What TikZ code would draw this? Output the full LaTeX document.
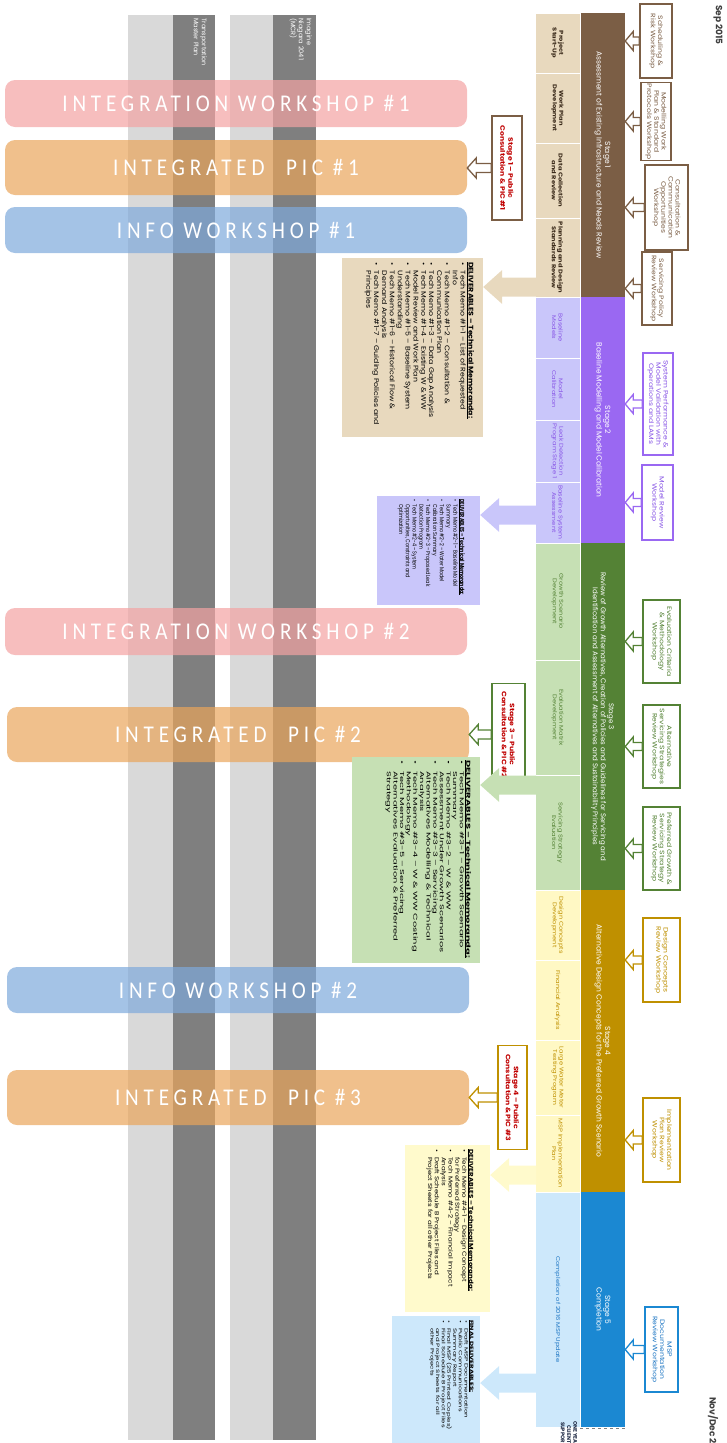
\documentclass[tikz,border=0pt]{standalone}
\usepackage{fontspec}
\usepackage{graphicx}
\setmainfont{Poppins}
\newfontfamily\barfamily{Carlito}[LetterSpace=20, FakeStretch=0.88]
\newfontfamily\rfam{Poppins}[FakeStretch=1.2]
\usetikzlibrary{calc}
\definecolor{sbrown}{HTML}{7B5E45}
\definecolor{stan}{HTML}{E8D9BE}
\definecolor{spurple}{HTML}{9A68F2}
\definecolor{spurpletext}{HTML}{8856E6}
\definecolor{slav}{HTML}{C9C6FA}
\definecolor{sgreen}{HTML}{548235}
\definecolor{slgreen}{HTML}{C6E0B4}
\definecolor{sgold}{HTML}{BF9000}
\definecolor{syellow}{HTML}{FFF8C4}
\definecolor{sdyellow}{HTML}{FFFACC}
\definecolor{sblue}{HTML}{1B88D2}
\definecolor{sbluetext}{HTML}{1F77C4}
\definecolor{slblue}{HTML}{CDE8FB}
\definecolor{dkred}{HTML}{C00000}
\definecolor{lgray}{HTML}{D9D9D9}
\definecolor{dgray}{HTML}{7F7F7F}
\definecolor{barpink}{HTML}{F3A3A3}
\definecolor{barorange}{HTML}{E9A55B}
\definecolor{barblue}{HTML}{7EA9DB}
\definecolor{darktext}{HTML}{404040}
\definecolor{subdark}{HTML}{3A2A1A}
\definecolor{navytext}{HTML}{1F2A44}
\newcommand\bitem[1]{\makebox[8pt][l]{\textbullet}#1}
\newcommand\citem[1]{\hspace*{8pt}#1}
\newcommand\delhead[1]{\textbf{\underline{#1}}}
% #1 box length, #2 box thickness, #3 pad right, #4 pad top, #5 L, #6 H, #7 lines
\newcommand\delcontent[7]{\begin{minipage}[c][#2][t]{#1}\vspace*{#3}\noindent\hspace*{#4}\resizebox*{#5}{#6}{\fontsize{7}{8.2}\selectfont\begin{tabular}{@{}l@{}}#7\end{tabular}}\end{minipage}}
\newcommand\blockarrow[6]{\path[#1] let \p1=(#2), \p2=(#3) in (\x1,\y2+#4) -- (\x2+#6,\y2+#4) -- (\x2+#6,\y2+#5) -- (\x2,\y2) -- (\x2+#6,\y2-#5) -- (\x2+#6,\y2-#4) -- (\x1,\y2-#4) -- cycle;}
\begin{document}
\begin{tikzpicture}[x=1pt,y=-1pt,
  rot/.style={rotate=-90},
  stagebar/.style={rot, minimum height=45pt, inner sep=1pt, align=center, text=white, font=\fontsize{7.5}{8.5}\selectfont},
  subseg/.style={rot, minimum height=45pt, inner sep=1pt, align=center, draw=white, line width=0.8pt, font=\rfam\fontsize{5.6}{6.6}\selectfont},
  subsegb/.style={subseg, text=subdark, font=\rfam\bfseries\fontsize{5.6}{6.6}\selectfont},
  wbox/.style={rot, draw, fill=white, line width=1.6pt, align=center, inner sep=1pt, font=\rfam\fontsize{6.4}{7.2}\selectfont},
  pbox/.style={wbox, text=dkred, font=\rfam\bfseries\fontsize{6.4}{8}\selectfont},
  hbar/.style={rounded corners=10pt, minimum width=462pt, text=white, fill opacity=0.7, text opacity=1, inner sep=0pt, font=\barfamily\fontsize{24}{26}\selectfont},
  delbox/.style={rot, inner sep=0pt},
  barlabel/.style={rot, anchor=north west, text=white, align=left, inner sep=0pt, font=\fontsize{6.5}{8}\selectfont},
  harrow/.style={fill=white, line width=1.3pt},
]
\useasboundingbox (0,0) rectangle (727,1443);
\clip (0,0) rectangle (727,1443);
% vertical gray bands
\fill[lgray] (128,15) rectangle (173,1440);
\fill[dgray] (173,15) rectangle (215,1440);
\fill[lgray] (230,15) rectangle (273,1440);
\fill[dgray] (273,15) rectangle (316,1440);
\node[barlabel] (tmp) at (207,18) {Transportation\\Master Plan};
\node[barlabel] (mcr) at (312,18) {Imagine\\Niagara 2041\\(MCR)};
% horizontal bars
\node[hbar, fill=barpink, minimum height=47pt] (iw1) at (236,103.5) {INTEGRATION WORKSHOP \#1};
\node[hbar, fill=barorange, minimum height=55pt] (pic1) at (236,167.5) {INTEGRATED\hspace{12pt} PIC \#1};
\node[hbar, fill=barblue, minimum height=46pt] (info1) at (236,230) {INFO WORKSHOP \#1};
\node[hbar, fill=barpink, minimum height=47pt] (iw2) at (236,631.5) {INTEGRATION WORKSHOP \#2};
\node[hbar, fill=barorange, minimum height=55pt] (pic2) at (238,734.5) {INTEGRATED\hspace{12pt} PIC \#2};
\node[hbar, fill=barblue, minimum height=46pt] (info2) at (238,990) {INFO WORKSHOP \#2};
\node[hbar, fill=barorange, minimum height=55pt] (pic3) at (238,1097.5) {INTEGRATED\hspace{12pt} PIC \#3};
% stage bars
\node[stagebar, fill=sbrown, minimum width=284pt] (s1) at (602.5,155) {Stage 1\\Assessment of Existing Infrastructure and Needs Review};
\node[stagebar, fill=spurple, minimum width=246pt] (s2) at (602.5,420) {Stage 2\\Baseline Modelling and Model Calibration};
\node[stagebar, fill=sgreen, minimum width=347pt, font=\fontsize{7}{8}\selectfont] (s3) at (602.5,716.5) {Stage 3\\Review of Growth Alternatives, Creation of Policies and Guidelines for Servicing and\\Identification and Assessment of Alternatives and Sustainability Principles};
\node[stagebar, fill=sgold, minimum width=302pt] (s4) at (602.5,1041) {Stage 4\\Alternative Design Concepts for the Preferred Growth Scenario};
\node[stagebar, fill=sblue, minimum width=235pt] (s5) at (602.5,1309.5) {Stage 5\\Completion};
\draw[gray, dashed, line width=0.6pt] (580,1428) -- (627,1428);
% sub rows
\node[subsegb, fill=stan, minimum width=60pt] (s1a) at (557.5,43) {Project\\Start-Up};
\node[subsegb, fill=stan, minimum width=70pt] (s1b) at (557.5,108) {Work Plan\\Development};
\node[subsegb, fill=stan, minimum width=75pt] (s1c) at (557.5,180.5) {Data Collection\\and Review};
\node[subsegb, fill=stan, minimum width=79pt] (s1d) at (557.5,257.5) {Planning and Design\\Standards Review};
\node[subseg, fill=slav, text=spurpletext, minimum width=61pt] (s2a) at (557.5,327.5) {Baseline\\Models};
\node[subseg, fill=slav, text=spurpletext, minimum width=62pt] (s2b) at (557.5,389) {Model\\Calibration};
\node[subseg, fill=slav, text=spurpletext, minimum width=62pt] (s2c) at (557.5,451) {Leak Detection\\Program Stage 1};
\node[subseg, fill=slav, text=spurpletext, minimum width=61pt] (s2d) at (557.5,512.5) {Baseline System\\Assessment};
\node[subseg, fill=slgreen, text=sgreen, minimum width=117pt] (s3a) at (557.5,601.5) {Growth Scenario\\Development};
\node[subseg, fill=slgreen, text=sgreen, minimum width=115pt] (s3b) at (557.5,717.5) {Evaluation Matrix\\Development};
\node[subseg, fill=slgreen, text=sgreen, minimum width=115pt] (s3c) at (557.5,832.5) {Servicing Strategy\\Evaluation};
\node[subseg, fill=syellow, text=sgold, minimum width=70pt] (s4a) at (557.5,925) {Design Concepts\\Development};
\node[subseg, fill=syellow, text=sgold, minimum width=80pt] (s4b) at (557.5,1000) {Financial Analysis};
\node[subseg, fill=syellow, text=sgold, minimum width=75pt] (s4c) at (557.5,1077.5) {Large Water Meter\\Testing Program};
\node[subseg, fill=syellow, text=sgold, minimum width=77pt] (s4d) at (557.5,1153.5) {MSP Implementation\\Plan};
\node[subseg, fill=slblue, text=sbluetext, minimum width=235pt] (s5a) at (557.5,1309.5) {Completion of 2016 MSP Update};
% workshop boxes
\node[wbox, draw=sbrown, text=sbrown, minimum width=74pt, minimum height=32pt] (w1) at (656,41) {Scheduling \&\\Risk Workshop};
\node[wbox, draw=sbrown, text=sbrown, minimum width=77pt, minimum height=30pt] (w2) at (656,121.5) {Modelling Work\\Plan \& Standard\\Protocols Workshop};
\node[wbox, draw=sbrown, text=sbrown, minimum width=85pt, minimum height=43pt] (w3) at (666.5,207.5) {Consultation \&\\Communication\\Opportunities\\Workshop};
\node[wbox, draw=sbrown, text=sbrown, minimum width=73pt, minimum height=30pt] (w4) at (657,288.5) {Servicing Policy\\Review Workshop};
\node[wbox, draw=spurple, text=spurpletext, minimum width=102pt, minimum height=30pt] (w5) at (658,404) {System Performance \&\\Model Validation with\\Operations and LAMs};
\node[wbox, draw=spurple, text=spurpletext, minimum width=75pt, minimum height=31pt] (w6) at (657.5,502.5) {Model Review\\Workshop};
\node[wbox, draw=sgreen, text=sgreen, minimum width=83pt, minimum height=37pt] (w7) at (661.5,641.5) {Evaluation Criteria\\\& Methodology\\Workshop};
\node[wbox, draw=sgreen, text=sgreen, minimum width=83pt, minimum height=37pt] (w8) at (661.5,746.5) {Alternative\\Servicing Strategies\\Review Workshop};
\node[wbox, draw=sgreen, text=sgreen, minimum width=83pt, minimum height=37pt] (w9) at (661.5,848.5) {Preferred Growth \&\\Servicing Strategy\\Review Workshop};
\node[wbox, draw=sgold, text=sgold, minimum width=84pt, minimum height=37pt] (w10) at (661.5,960) {Design Concepts\\Review Workshop};
\node[wbox, draw=sgold, text=sgold, minimum width=84pt, minimum height=37pt] (w11) at (661.5,1140) {Implementation\\Plan Review\\Workshop};
\node[wbox, draw=sblue, text=sbluetext, minimum width=85pt, minimum height=33pt] (w12) at (661.5,1349.5) {MSP\\Documentation\\Review Workshop};
\blockarrow{harrow, draw=sbrown}{w1.south}{w1.south -| s1.north}{4pt}{9.5pt}{8pt}
\blockarrow{harrow, draw=sbrown}{w2.south}{w2.south -| s1.north}{4pt}{9.5pt}{8pt}
\blockarrow{harrow, draw=sbrown}{w3.south}{w3.south -| s1.north}{4pt}{9.5pt}{8pt}
\blockarrow{harrow, draw=sbrown}{w4.south}{w4.south -| s1.north}{4pt}{9.5pt}{8pt}
\blockarrow{harrow, draw=spurple}{w5.south}{w5.south -| s2.north}{4pt}{9.5pt}{8pt}
\blockarrow{harrow, draw=spurple}{w6.south}{w6.south -| s2.north}{4pt}{9.5pt}{8pt}
\blockarrow{harrow, draw=sgreen}{w7.south}{w7.south -| s3.north}{4pt}{9.5pt}{8pt}
\blockarrow{harrow, draw=sgreen}{w8.south}{w8.south -| s3.north}{4pt}{9.5pt}{8pt}
\blockarrow{harrow, draw=sgreen}{w9.south}{w9.south -| s3.north}{4pt}{9.5pt}{8pt}
\blockarrow{harrow, draw=sgold}{w10.south}{w10.south -| s4.north}{4pt}{9.5pt}{8pt}
\blockarrow{harrow, draw=sgold}{w11.south}{w11.south -| s4.north}{4pt}{9.5pt}{8pt}
\blockarrow{harrow, draw=sblue}{w12.south}{w12.south -| s5.north}{4pt}{9.5pt}{8pt}
% public consultation boxes
\node[pbox, draw=sbrown, minimum width=104pt, minimum height=30pt] (p1) at (507,168) {Stage 1 – Public\\Consultation \& PIC \#1};
\node[pbox, draw=sgreen, minimum width=102pt, minimum height=33pt] (p2) at (508.5,734.5) {Stage 3 – Public\\Consultation \& PIC \#2};
\node[pbox, draw=sgold, minimum width=104pt, minimum height=29pt] (p3) at (512.5,1097.5) {Stage 4 – Public\\Consultation \& PIC \#3};
\blockarrow{harrow, draw=sbrown}{p1.south}{p1.south -| pic1.east}{4.5pt}{10pt}{9pt}
\blockarrow{harrow, draw=sgreen}{p2.south}{p2.south -| pic2.east}{4.5pt}{10pt}{9pt}
\blockarrow{harrow, draw=sgold}{p3.south}{p3.south -| pic3.east}{4.5pt}{10pt}{9pt}
% deliverables
\node[delbox, fill=stan] (d1) at (412.5,347.5) {\delcontent{179pt}{141pt}{9pt}{4pt}{163pt}{110pt}{%
\delhead{DELIVERABLES – Technical Memoranda:}\\
\bitem{Tech Memo \#1-1 – List of Requested}\\
\citem{Info}\\
\bitem{Tech Memo \#1-2 – Consultation \&}\\
\citem{Communication Plan}\\
\bitem{Tech Memo \#1-3 – Data Gap Analysis}\\
\bitem{Tech Memo \#1-4 – Existing W \& WW}\\
\citem{Model Review and Work Plan}\\
\bitem{Tech Memo \#1-5 – Baseline System}\\
\citem{Understanding}\\
\bitem{Tech Memo \#1-6 – Historical Flow \&}\\
\citem{Demand Analysis}\\
\bitem{Tech Memo \#1-7 – Guiding Policies and}\\
\citem{Principles}}};
\node[delbox, fill=slav] (d2) at (428.5,550.5) {\delcontent{109pt}{103pt}{15pt}{3pt}{96pt}{68pt}{%
\delhead{DELIVERABLES – Technical Memoranda:}\\
\bitem{Tech Memo \#2-1 – Baseline Model}\\
\citem{Summary}\\
\bitem{Tech Memo \#2-2 – Water Model}\\
\citem{Calibration Summary}\\
\bitem{Tech Memo \#2-3 – Proposed Leak}\\
\citem{Detection Program}\\
\bitem{Tech Memo \#2-4 – System}\\
\citem{Opportunities, Constraints and}\\
\citem{Optimization}}};
\node[delbox, fill=slgreen] (d3) at (416,860) {\delcontent{206pt}{128pt}{9pt}{3pt}{198pt}{86pt}{%
\delhead{DELIVERABLES – Technical Memoranda:}\\
\bitem{Tech Memo \#3-1 – Growth Scenario}\\
\citem{Summary}\\
\bitem{Tech Memo \#3-2 – W \& WW}\\
\citem{Assessment Under Growth Scenarios}\\
\bitem{Tech Memo \#3-3 – Servicing}\\
\citem{Alternatives Modelling \& Technical}\\
\citem{Analysis}\\
\bitem{Tech Memo \#3-4 – W \& WW Costing}\\
\citem{Methodology}\\
\bitem{Tech Memo \#3-5 – Servicing}\\
\citem{Alternatives Evaluation \& Preferred}\\
\citem{Strategy}}};
\node[delbox, fill=sdyellow] (d4) at (447.5,1228.5) {\delcontent{167pt}{85pt}{16pt}{4pt}{142pt}{48pt}{%
\delhead{DELIVERABLES – Technical Memoranda:}\\
\bitem{Tech Memo \#4-1 – Design Concept}\\
\citem{for Preferred Strategy}\\
\bitem{Tech Memo \#4-2 – Financial Impact}\\
\citem{Analysis}\\
\bitem{Draft Schedule B Project Files and}\\
\citem{Project Sheets for all other Projects}}};
\node[delbox, fill=slblue] (d5) at (436,1380.5) {\delcontent{129pt}{88pt}{6pt}{4pt}{110pt}{45pt}{%
\delhead{FINAL DELIVERABLES:}\\
\bitem{Draft MSP Documentation}\\
\bitem{Public Communications}\\
\citem{Summary Report}\\
\bitem{Final MSP (25 Printed Copies)}\\
\bitem{Final Schedule B Project Files}\\
\citem{and Project Sheets for all}\\
\citem{other Projects}}};
\coordinate (a1) at (536,287);
\coordinate (a2) at (536,515);
\coordinate (a3) at (536,785);
\coordinate (a4) at (536,1175);
\coordinate (a5) at (536,1383);
\blockarrow{fill=stan}{a1}{a1 -| d1.north}{9.5pt}{17pt}{19pt}
\blockarrow{fill=slav}{a2}{a2 -| d2.north}{9.5pt}{17pt}{19pt}
\blockarrow{fill=slgreen}{a3}{a3 -| d3.north}{9.5pt}{17pt}{19pt}
\blockarrow{fill=sdyellow}{a4}{a4 -| d4.north}{9.5pt}{17pt}{19pt}
\blockarrow{fill=slblue}{a5}{a5 -| d5.north}{9.5pt}{17pt}{19pt}
% dates
\node[rot, text=darktext, font=\bfseries\fontsize{9}{10}\selectfont] (sep) at (718,25) {Sep 2015};
\node[rot, anchor=west, text=darktext, font=\bfseries\fontsize{9}{10}\selectfont, inner sep=0pt] (nov) at (713,1397) {Nov/Dec 2016};
\node[rot, anchor=west, text=navytext, align=center, inner sep=0pt, font=\bfseries\fontsize{5.3}{6.2}\selectfont] (oneyear) at (569,1421) {ONE YEAR\\CLIENT\\SUPPORT};
\end{tikzpicture}
\end{document}
